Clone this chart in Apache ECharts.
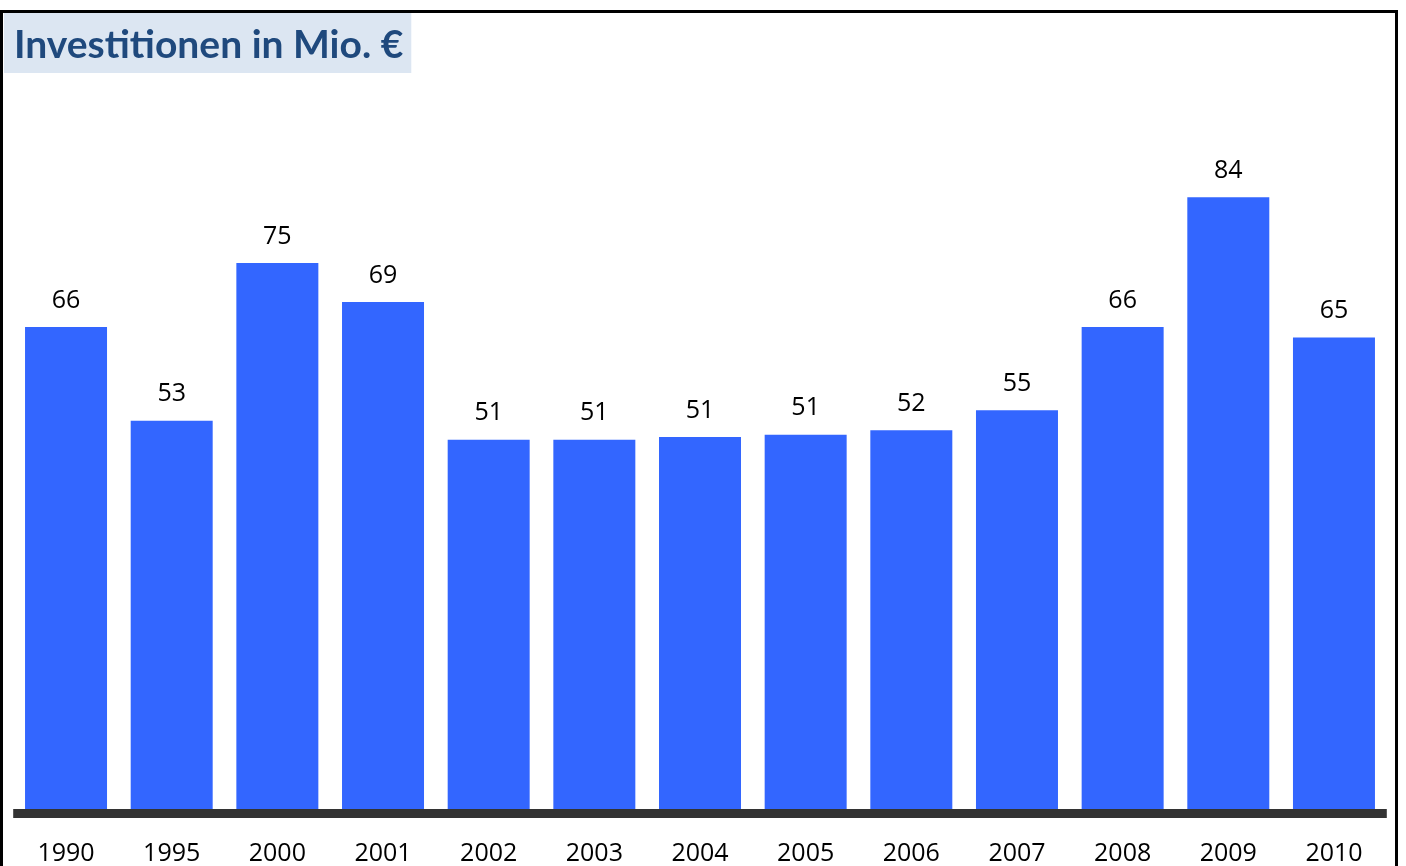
<!DOCTYPE html>
<html>
<head>
<meta charset="utf-8">
<script src="https://cdn.jsdelivr.net/npm/echarts@6/dist/echarts.min.js"></script>
<style>
  * { margin: 0; padding: 0; }
  body { background: #fff; }
</style>
</head>
<body>
<div id="main" style="width: 1406px;height: 866px;"></div>
<script>
  var years = ['1990', '1995', '2000', '2001', '2002', '2003', '2004', '2005', '2006', '2007', '2008', '2009', '2010'];
  var invest = [66.0, 53.3, 74.7, 69.4, 50.7, 50.7, 51.1, 51.4, 52.0, 54.7, 66.0, 83.6, 64.6];
  var yMax = 100;

  var chart = echarts.init(document.getElementById('main'));
  chart.setOption({
    animation: false,
    title: {
      text: 'Investitionen in Mio. €',
      left: 4,
      top: 13,
      backgroundColor: '#DCE6F2',
      padding: [12, 8, 8, 10],
      textStyle: {
        fontFamily: 'Lato',
        fontWeight: 'bold',
        fontSize: 39,
        lineHeight: 40,
        color: '#1F497D'
      }
    },
    // Rahmen um das ganze Diagramm
    graphic: [
      {
        type: 'rect',
        shape: { x: 1.5, y: 11.5, width: 1395, height: 900 },
        style: { fill: 'none', stroke: '#000', lineWidth: 3 },
        z: 100
      }
    ],
    grid: {
      left: 13.2,
      right: 19.2,
      top: 76.5,
      bottom: 52.5,
      outerBoundsMode: 'none'
    },
    xAxis: {
      type: 'category',
      data: years,
      z: 10,
      axisLine: {
        lineStyle: { color: '#333333', width: 9, cap: 'butt' }
      },
      axisTick: { show: false },
      axisLabel: {
        margin: 28,
        fontFamily: 'Open Sans',
        fontSize: 25,
        color: '#000'
      }
    },
    yAxis: {
      type: 'value',
      min: 0,
      max: yMax,
      show: false,
      splitLine: { show: false }
    },
    series: [
      {
        type: 'bar',
        data: invest,
        barCategoryGap: '22.4%',
        itemStyle: { color: '#3366FF' },
        label: {
          show: true,
          position: 'top',
          distance: 14,
          fontFamily: 'Open Sans',
          fontSize: 25,
          color: '#000',
          formatter: function (p) { return Math.round(p.value); }
        }
      }
    ]
  });
</script>
</body>
</html>
